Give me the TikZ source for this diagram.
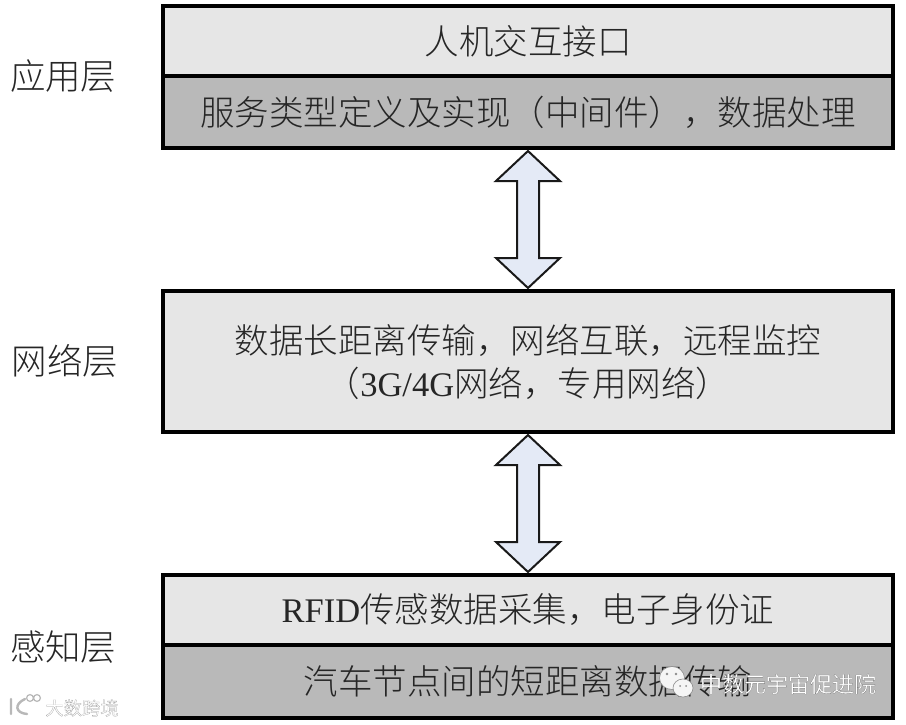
\documentclass[tikz,border=0pt]{standalone}
\usepackage{fontspec}
\usetikzlibrary{calc}
\setmainfont{Liberation Serif}
\newfontfamily\cjk{Noto Sans CJK SC Light}
\newfontfamily\cjkreg{Noto Sans CJK SC}
\definecolor{boxlight}{HTML}{E6E6E6}
\definecolor{boxdark}{HTML}{B9B9B9}
\definecolor{arrowfill}{HTML}{E4EAF6}
\definecolor{inkc}{HTML}{262626}
\newcommand{\outlined}[3]{\special{pdf:code 2 Tr #2 w #1 G}#3\special{pdf:code 0 Tr 0 G 1 w}}
\tikzset{
  base/.style={inner sep=0pt,outer sep=0pt,text=inkc,font=\fontsize{34.5}{43}\selectfont\cjk},
  boxa/.style={base,draw=black,line width=3.6pt,fill=boxlight,minimum width=730pt,align=center},
  boxb/.style={boxa,fill=boxdark},
  layerlabel/.style={base,anchor=west,font=\fontsize{35.5}{43}\selectfont\cjk},
  wmark/.style={inner sep=0pt,font=\fontsize{22}{22}\selectfont\cjkreg,text=white},
  wsmall/.style={inner sep=0pt,font=\fontsize{18.3}{18.3}\selectfont\cjkreg,text=white},
  fatarrow/.style={draw=black!90,line width=2pt,fill=arrowfill,line join=miter},
  bubble/.style={fill=white!96!black,draw=black!45,line width=.6pt},
  logoline/.style={draw=black!28,line width=2.4pt,line cap=round},
}
\newcommand{\fatlink}[2]{%
  \path[fatarrow]
    ($(#1.south)+(0,3)$) -- ($(#1.south)+(32,33)$) -- ($(#1.south)+(11,33)$)
    -- ($(#2.north)+(11,-33)$) -- ($(#2.north)+(32,-33)$) -- ($(#2.north)+(0,-3)$)
    -- ($(#2.north)+(-32,-33)$) -- ($(#2.north)+(-11,-33)$)
    -- ($(#1.south)+(-11,33)$) -- ($(#1.south)+(-32,33)$) -- cycle;}
\begin{document}
\begin{tikzpicture}[x=1pt,y=-1pt]
\useasboundingbox (0,0) rectangle (906,725);
\fill[white] (0,0) rectangle (906,725);
% boxes
\node[boxa,minimum height=70pt] (hmi) at (528,41) {人机交互接口};
\node[boxb,minimum height=72pt] (svc) at (528,112) {服务类型定义及实现（中间件），数据处理};
\node[boxa,minimum height=141pt] (net) at (528,361.5) {数据长距离传输，网络互联，远程监控\\（{\rmfamily 3G/4G}网络，专用网络）};
\node[boxa,minimum height=70pt] (rfid) at (528,610) {{\rmfamily RFID}传感数据采集，电子身份证};
\node[boxb,minimum height=73pt] (car) at (528,681.5) {汽车节点间的短距离数据传输};
% layer labels
\node[layerlabel] (l1) at (10,76) {应用层};
\node[layerlabel] (l2) at (12,361) {网络层};
\node[layerlabel] (l3) at (10,647) {感知层};
% arrows
\fatlink{svc}{net}
\fatlink{net}{rfid}
% watermark right
\draw[bubble] (672,678) ellipse (12.5 and 11.5);
\draw[bubble] (683,688) ellipse (10 and 9);
\fill[black!45] (667,674) circle (1.3) (676,674) circle (1.3) (680,686) circle (1) (686,686) circle (1);
\node[wmark] (wm) at (788,684) {\outlined{0.35}{0.12}{中数元宇宙促进院}};
% watermark left
\draw[logoline] (11,699) -- (11,714) (25,699) .. controls (14,704) and (15,713) .. (27,714);
\draw[logoline,line width=1.2pt] (30,698) circle (3.4) (37,698) circle (3.4);
\node[wsmall] (wl) at (82,708) {\outlined{0.6}{0.2}{大数跨境}};
\end{tikzpicture}
\end{document}
